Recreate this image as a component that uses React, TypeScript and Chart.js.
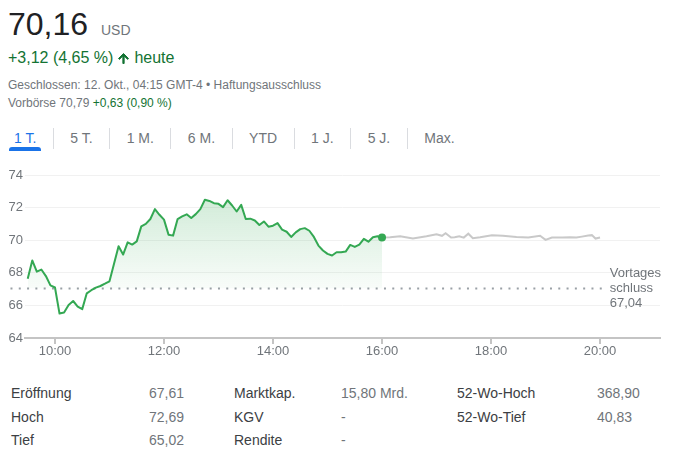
import React, { useEffect, useRef } from "react";
import { Chart, registerables } from "chart.js";

Chart.register(...registerables);

// ---------- DATA ----------
const sessionTimes = [
  "09:30", "09:35", "09:40", "09:45", "09:50", "09:55",
  "10:00", "10:05", "10:10", "10:15", "10:20", "10:25", "10:30", "10:35", "10:40", "10:45", "10:50", "10:55",
  "11:00", "11:05", "11:10", "11:15", "11:20", "11:25", "11:30", "11:35", "11:40", "11:45", "11:50", "11:55",
  "12:00", "12:05", "12:10", "12:15", "12:20", "12:25", "12:30", "12:35", "12:40", "12:45", "12:50", "12:55",
  "13:00", "13:05", "13:10", "13:15", "13:20", "13:25", "13:30", "13:35", "13:40", "13:45", "13:50", "13:55",
  "14:00", "14:05", "14:10", "14:15", "14:20", "14:25", "14:30", "14:35", "14:40", "14:45", "14:50", "14:55",
  "15:00", "15:05", "15:10", "15:15", "15:20", "15:25", "15:30", "15:35", "15:40", "15:45", "15:50", "15:55",
  "16:00",
];
const sessionPrices = [
  67.64, 68.76, 68.07, 68.2, 67.8, 67.23,
  67.1, 65.5, 65.56, 66.03, 66.27, 65.93, 65.77, 66.74, 66.93, 67.09, 67.19, 67.33,
  67.48, 68.55, 69.63, 69.12, 69.87, 69.73, 69.93, 70.85, 71.0, 71.3, 71.91, 71.56,
  71.26, 70.34, 70.28, 71.3, 71.46, 71.59, 71.36, 71.6, 71.91, 72.48, 72.41, 72.27,
  72.23, 72.03, 72.45, 72.13, 71.76, 72.17, 71.3, 71.32, 71.21, 70.93, 71.15, 70.83,
  70.89, 71.05, 70.65, 70.52, 70.2, 70.48, 70.68, 70.74, 70.58, 70.2, 69.67, 69.37,
  69.16, 69.06, 69.26, 69.26, 69.3, 69.71, 69.59, 69.73, 70.08, 69.91, 70.18, 70.24,
  70.16,
];
const afterHoursTimes = [
  "16:00", "16:09", "16:20", "16:34", "16:49", "17:00", "17:06", "17:10", "17:16", "17:20",
  "17:25", "17:30", "17:35", "17:40", "17:48", "18:01", "18:13", "18:28", "18:41", "18:54",
  "19:00", "19:07", "19:19", "19:27", "19:34", "19:40", "19:47", "19:51", "19:55", "20:00",
];
const afterHoursPrices = [
  70.16, 70.18, 70.24, 70.1, 70.24, 70.37, 70.27, 70.43, 70.16, 70.18,
  70.24, 70.16, 70.4, 70.12, 70.18, 70.31, 70.27, 70.2, 70.16, 70.27,
  70.02, 70.16, 70.16, 70.18, 70.16, 70.22, 70.29, 70.31, 70.1, 70.16,
];
const previousClose = 67.04;
const previousCloseFrom = "09:11";
const previousCloseTo = "20:03";
const previousCloseLabel = ["Vortages", "schluss", "67,04"];
const yTickValues = [64, 66, 68, 70, 72, 74];
const xTickLabels = ["10:00", "12:00", "14:00", "16:00", "18:00", "20:00"];
const xAxisFrom = "09:27";
const xAxisTo = "21:06";

const rangeTabs = ["1 T.", "5 T.", "1 M.", "6 M.", "YTD", "1 J.", "5 J.", "Max."];
const statLabelsA = ["Eröffnung", "Hoch", "Tief"];
const statValuesA = ["67,61", "72,69", "65,02"];
const statLabelsB = ["Marktkap.", "KGV", "Rendite"];
const statValuesB = ["15,80 Mrd.", "-", "-"];
const statLabelsC = ["52-Wo-Hoch", "52-Wo-Tief"];
const statValuesC = ["368,90", "40,83"];

// ---------- HELPERS ----------
const toMin = (t: string) => {
  const [h, m] = t.split(":").map(Number);
  return h * 60 + m;
};

const GREEN = "#34a853";
const GRAY_TEXT = "#70757a";
const FONT = "Arial, 'Liberation Sans', sans-serif";

const prevCloseLabelPlugin = {
  id: "prevCloseLabel",
  afterDatasetsDraw(chart: any) {
    const { ctx, scales } = chart;
    const x = scales.x.getPixelForValue(toMin(previousCloseTo)) + 7;
    const y = scales.y.getPixelForValue(previousClose);
    ctx.save();
    ctx.font = `13px ${FONT}`;
    ctx.fillStyle = GRAY_TEXT;
    ctx.textAlign = "left";
    ctx.textBaseline = "middle";
    previousCloseLabel.forEach((line, i) => {
      ctx.fillText(line, x, y + (i - 1) * 15);
    });
    ctx.restore();
  },
};

function PriceChart() {
  const ref = useRef<HTMLCanvasElement | null>(null);
  useEffect(() => {
    if (!ref.current) return;
    const chart = new Chart(ref.current, {
      type: "line",
      data: {
        datasets: [
          {
            label: "session",
            data: sessionTimes.map((t, i) => ({ x: toMin(t), y: sessionPrices[i] })),
            borderColor: GREEN,
            borderWidth: 2,
            tension: 0,
            borderJoinStyle: "round",
            pointRadius: sessionPrices.map((_, i) => (i === sessionPrices.length - 1 ? 4 : 0)),
            pointBackgroundColor: GREEN,
            pointBorderWidth: 0,
            pointHoverRadius: 0,
            fill: { target: { value: previousClose }, below: "rgba(0,0,0,0)" },
            backgroundColor: (c: any) => {
              const chartRef = c.chart;
              const area = chartRef.chartArea;
              if (!area) return "rgba(52,168,83,0.1)";
              const ys = chartRef.scales.y;
              const g = chartRef.ctx.createLinearGradient(0, ys.getPixelForValue(72.5), 0, ys.getPixelForValue(previousClose));
              g.addColorStop(0, "rgba(52,168,83,0.22)");
              g.addColorStop(1, "rgba(52,168,83,0.03)");
              return g;
            },
          } as any,
          {
            label: "afterhours",
            data: afterHoursTimes.map((t, i) => ({ x: toMin(t), y: afterHoursPrices[i] })),
            borderColor: "#c9c9c9",
            borderWidth: 2,
            tension: 0,
            pointRadius: 0,
            pointHoverRadius: 0,
            fill: false,
          },
          {
            label: "prevclose",
            data: [
              { x: toMin(previousCloseFrom), y: previousClose },
              { x: toMin(previousCloseTo), y: previousClose },
            ],
            borderColor: "#9aa0a6",
            borderWidth: 2,
            borderDash: [2, 6.3],
            borderCapStyle: "butt",
            pointRadius: 0,
            pointHoverRadius: 0,
            fill: false,
            clip: false,
          } as any,
        ],
      },
      options: {
        responsive: false,
        animation: false,
        events: [],
        layout: { padding: { top: 15, right: 23, left: 0, bottom: 0 } },
        plugins: { legend: { display: false }, tooltip: { enabled: false } },
        scales: {
          x: {
            type: "linear",
            min: toMin(xAxisFrom),
            max: toMin(xAxisTo),
            afterBuildTicks: (s: any) => {
              s.ticks = xTickLabels.map((t) => ({ value: toMin(t) }));
            },
            afterFit: (s: any) => {
              s.height = 26;
            },
            ticks: {
              callback: (v: any) => {
                const found = xTickLabels.find((t) => toMin(t) === v);
                return found ?? "";
              },
              color: GRAY_TEXT,
              font: { family: FONT, size: 13 },
              padding: 0,
              maxRotation: 0,
              autoSkip: false,
            },
            grid: {
              drawOnChartArea: false,
              drawTicks: true,
              tickLength: 6,
              lineWidth: 2,
              color: "#c4c4c4",
            },
            border: { display: true, color: "#c4c4c4", width: 2 },
          },
          y: {
            type: "linear",
            min: 64,
            max: 74,
            afterBuildTicks: (s: any) => {
              s.ticks = yTickValues.map((v) => ({ value: v }));
            },
            afterFit: (s: any) => {
              s.width = 25;
            },
            ticks: {
              color: GRAY_TEXT,
              font: { family: FONT, size: 13 },
              padding: 2,
            },
            grid: { drawTicks: false, color: "#f1f1f1", lineWidth: 1 },
            border: { display: false },
          },
        },
      } as any,
      plugins: [prevCloseLabelPlugin],
    });
    return () => chart.destroy();
  }, []);
  return (
    <canvas
      ref={ref}
      width={683}
      height={204}
      style={{ position: "absolute", left: 0, top: 160, width: 683, height: 204 }}
    />
  );
}

const abs = (left: number, top: number, size: number, color: string, extra: any = {}) => ({
  position: "absolute" as const,
  left,
  top,
  fontSize: size,
  lineHeight: `${size}px`,
  color,
  whiteSpace: "nowrap" as const,
  fontFamily: FONT,
  ...extra,
});

export default function App() {
  const rowTops = [386, 410, 433];
  return (
    <div style={{ position: "absolute", left: 0, top: 0, width: 683, height: 452, background: "#fff", fontFamily: FONT, overflow: "hidden" }}>
      <div style={abs(8, 8, 32, "#202124")}>70,16</div>
      <div style={abs(101, 23, 14, GRAY_TEXT)}>USD</div>
      <div style={abs(8, 50, 16, "#137333", { display: "flex", alignItems: "center" })}>
        <span>+3,12 (4,65 %)</span>
        <svg width="15" height="15" viewBox="0 0 24 24" style={{ marginLeft: 3, marginRight: 3 }}>
          <path d="M4 12l1.41 1.41L11 7.83V20h2V7.83l5.58 5.59L20 12l-8-8-8 8z" fill="#137333" stroke="#137333" strokeWidth="1.6" />
        </svg>
        <span>heute</span>
      </div>
      <div style={abs(8, 79, 12, GRAY_TEXT)}>Geschlossen: 12. Okt., 04:15 GMT-4 • Haftungsausschluss</div>
      <div style={abs(8, 96.5, 12, GRAY_TEXT)}>
        Vorbörse 70,79 <span style={{ color: "#137333" }}>+0,63 (0,90 %)</span>
      </div>

      <div style={{ position: "absolute", left: 8, top: 126, height: 24, display: "flex", alignItems: "center", fontFamily: FONT, fontSize: 14 }}>
        {rangeTabs.map((t, i) => (
          <React.Fragment key={t}>
            {i > 0 && <div style={{ width: 1, height: 21, background: "#dadce0" }} />}
            <div
              style={{
                paddingLeft: i === 0 ? 6 : 16.5,
                paddingRight: 16.5,
                lineHeight: "24px",
                color: i === 0 ? "#1a73e8" : GRAY_TEXT,
                whiteSpace: "nowrap",
              }}
            >
              {t}
            </div>
          </React.Fragment>
        ))}
      </div>
      <div style={{ position: "absolute", left: 9, top: 147, width: 32, height: 4, background: "#1a73e8", borderRadius: "3px 3px 0 0" }} />

      <PriceChart />

      {statLabelsA.map((l, i) => (
        <div key={"la" + i} style={abs(11, rowTops[i], 14, "#3c4043")}>{l}</div>
      ))}
      {statValuesA.map((v, i) => (
        <div key={"va" + i} style={abs(149, rowTops[i], 14, GRAY_TEXT)}>{v}</div>
      ))}
      {statLabelsB.map((l, i) => (
        <div key={"lb" + i} style={abs(234, rowTops[i], 14, "#3c4043")}>{l}</div>
      ))}
      {statValuesB.map((v, i) => (
        <div key={"vb" + i} style={abs(341, rowTops[i], 14, GRAY_TEXT)}>{v}</div>
      ))}
      {statLabelsC.map((l, i) => (
        <div key={"lc" + i} style={abs(457, rowTops[i], 14, "#3c4043")}>{l}</div>
      ))}
      {statValuesC.map((v, i) => (
        <div key={"vc" + i} style={abs(597, rowTops[i], 14, GRAY_TEXT)}>{v}</div>
      ))}
    </div>
  );
}
